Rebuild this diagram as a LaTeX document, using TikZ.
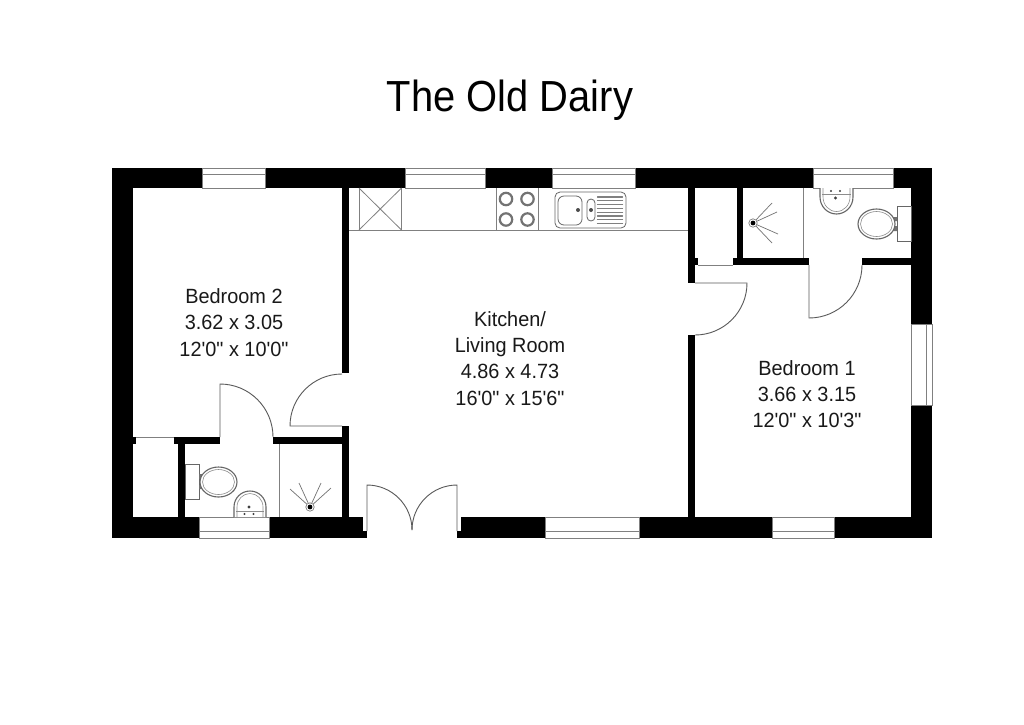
\documentclass[tikz,border=0pt]{standalone}
\usepackage{fontspec}
\newfontfamily\planfont[FakeStretch=0.965]{Liberation Sans}
\newfontfamily\titlefont[FakeStretch=0.917]{Liberation Sans}
\tikzset{
  wall/.style={fill=black,draw=none},
  thin line/.style={draw=black!50,line width=0.8pt},
  door/.style={draw=black!65,line width=0.9pt},
  fixture/.style={draw=black!60,line width=0.8pt,fill=white},
  room/.style={align=center,font=\planfont\fontsize{20.6}{26.2}\selectfont,text=black!90,inner sep=0pt},
  heading/.style={font=\titlefont\fontsize{43.5}{48}\selectfont,text=black,inner sep=0pt},
  ray/.style={draw=black!55,line width=0.7pt}
}
\newcommand{\wallbox}[4]{\fill[wall] (#1,#2) rectangle (#3,#4);}
\newcommand{\winh}[4]{\draw[thin line] (#1,#2) rectangle (#3,#4); \draw[thin line] (#1,531) -- (#3,531);}
\newcommand{\ring}[2]{\draw[draw=black!55,line width=2.2pt] (#1,#2) circle (6.2);}
\begin{document}
\begin{tikzpicture}[x=1pt,y=-1pt]
\useasboundingbox (0,0) rectangle (1024,724);
\fill[white] (0,0) rectangle (1024,724);
% outer walls
\wallbox{112}{168}{133}{538}
\wallbox{112}{168}{202}{188}
\wallbox{265}{168}{405}{188}
\wallbox{485}{168}{552}{188}
\wallbox{635}{168}{813}{188}
\wallbox{893}{168}{932}{188}
\wallbox{911}{168}{932}{324}
\wallbox{911}{405}{932}{538}
\wallbox{112}{517}{199}{538}
\wallbox{269}{517}{363}{538}
\wallbox{269}{531}{367}{538}
\wallbox{461}{517}{545}{538}
\wallbox{457}{531}{545}{538}
\wallbox{639}{517}{772}{538}
\wallbox{834}{517}{932}{538}
% inner walls
\wallbox{342}{188}{349}{373}
\wallbox{342}{426}{349}{517}
\wallbox{688}{188}{695}{283}
\wallbox{688}{335}{695}{517}
\wallbox{737}{188}{743}{265}
\wallbox{733}{258}{809}{265}
\wallbox{862}{258}{911}{265}
\wallbox{695}{258}{698}{265}
\wallbox{133}{437}{136}{444}
\wallbox{174}{437}{220}{444}
\wallbox{273}{437}{342}{444}
\wallbox{178}{437}{185}{517}
% windows
\draw[thin line] (202,168) rectangle (265,188); \draw[thin line] (202,174.5) -- (265,174.5);
\draw[thin line] (405,168) rectangle (485,188); \draw[thin line] (405,174.5) -- (485,174.5);
\draw[thin line] (552,168) rectangle (635,188); \draw[thin line] (552,174.5) -- (635,174.5);
\draw[thin line] (813,168) rectangle (893,188); \draw[thin line] (813,174.5) -- (893,174.5);
\winh{199}{517}{269}{538}
\winh{545}{517}{639}{538}
\winh{772}{517}{834}{538}
\draw[thin line] (911,324) rectangle (932,405); \draw[thin line] (926,324) -- (926,405);
% kitchen counter
\draw[thin line] (349,230) -- (688,230);
\draw[thin line] (359,188) -- (359,230);
\draw[thin line] (401.5,188) -- (401.5,230);
\draw[thin line] (359,188) -- (401.5,230);
\draw[thin line] (401.5,188) -- (359,230);
% hob
\draw[thin line] (496,188) -- (496,230);
\draw[thin line] (538,188) -- (538,230);
\ring{506}{199}\ring{527.5}{199}\ring{506}{219.5}\ring{527.5}{219.5}
% sink
\draw[fixture,rounded corners=5pt] (555,192) rectangle (626,228);
\draw[fixture,rounded corners=6pt] (558,196) rectangle (582,225);
\draw[fixture,rounded corners=4pt] (587,199) rectangle (595,221);
\fill[black!70] (578,210) circle (2);
\fill[black!70] (591,210) circle (2);
\foreach \yy in {197,200.8,204.6,208.4,212.2,216,219.8,223.6}{
  \draw[draw=black!50,line width=1.3pt,line cap=round] (597.5,\yy) -- (622.5,\yy);
}
% closet thin lines
\draw[thin line] (698,265) -- (733,265);
\draw[thin line] (136,437) -- (174,437);
% showers
\draw[thin line] (803,188) -- (803,258);
\draw[thin line] (279,444) -- (279,517);
\foreach \a/\b in {772/203,777/212,778/234,772/243}{ \draw[ray] (753,223) -- (\a,\b); }
\draw[fill=white,draw=black!50,line width=0.7pt] (753,223) circle (4.2);
\fill[black] (753,223) circle (2.4);
\foreach \a/\b in {290/489,299/483,321/483,331/488}{ \draw[ray] (310,507) -- (\a,\b); }
\draw[fill=white,draw=black!50,line width=0.7pt] (310,507) circle (4.2);
\fill[black] (310,507) circle (2.4);
% en-suite 1 basin
\draw[fixture,line width=1.1pt] (820,188) -- (820,197) arc[start angle=180,end angle=0,x radius=16.5,y radius=17] -- (853,188);
\draw[draw=black!45,line width=0.6pt] (823,188) -- (823,197) arc[start angle=180,end angle=0,x radius=13.5,y radius=14.5] -- (850,188);
\draw[draw=black!45,line width=0.6pt] (822,194) -- (851,194);
\fill[black!75] (831,191) circle (1.2) (840,191) circle (1.2) (835.5,198) circle (1.6);
% en-suite 1 toilet
\draw[fixture] (897,206) rectangle (911,241);
\fill[black!55] (893,217) rectangle (897,221) (893,226) rectangle (897,231);
\draw[fixture,line width=1.1pt] (876.5,224) ellipse (18.5 and 15);
\draw[draw=black!45,line width=0.6pt] (876.5,224) ellipse (16 and 12.5);
% en-suite 2 toilet
\draw[fixture] (185,464) rectangle (199,499);
\fill[black!55] (199,474) rectangle (203,479) (199,485) rectangle (203,489);
\draw[fixture,line width=1.1pt] (218.5,482) ellipse (18.5 and 15);
\draw[draw=black!45,line width=0.6pt] (218.5,482) ellipse (16 and 12.5);
% en-suite 2 basin
\draw[fixture,line width=1.1pt] (234,517) -- (234,507) arc[start angle=180,end angle=360,x radius=16,y radius=16] -- (266,517);
\draw[draw=black!45,line width=0.6pt] (237,517) -- (237,507) arc[start angle=180,end angle=360,x radius=13,y radius=13.5] -- (263,517);
\draw[draw=black!45,line width=0.6pt] (236,511) -- (264,511);
\fill[black!75] (244.5,514) circle (1.2) (253.5,514) circle (1.2) (249,507) circle (1.6);
% doors
\coordinate (d1a) at (747,283); \coordinate (d1b) at (695,283);
\draw[door] (d1b) -- (d1a) arc[start angle=0,end angle=90,radius=52];
\coordinate (d2a) at (809,265); \coordinate (d2b) at (809,318);
\draw[door] (d2a) -- (d2b) arc[start angle=90,end angle=0,radius=53];
\coordinate (d3a) at (220,437); \coordinate (d3b) at (220,384);
\draw[door] (d3a) -- (d3b) arc[start angle=-90,end angle=0,radius=53];
\coordinate (d4a) at (342,426); \coordinate (d4b) at (290,426);
\draw[door] (d4a) -- (d4b) arc[start angle=180,end angle=270,radius=52];
\coordinate (d5a) at (367,531); \coordinate (d5b) at (367,485);
\draw[door] (d5a) -- (d5b) arc[start angle=-90,end angle=0,radius=45];
\coordinate (d6a) at (457,531); \coordinate (d6b) at (457,485);
\draw[door] (d6a) -- (d6b) arc[start angle=-90,end angle=-180,radius=45];
% text
\node[heading,anchor=base] (titletext) at (510,111) {The Old Dairy};
\node[room,anchor=base] (bed2) at (234,303.5) {Bedroom 2};
\node[room,anchor=base] (bed2a) at (234,329.5) {3.62 x 3.05};
\node[room,anchor=base] (bed2b) at (234,356) {12'0" x 10'0"};
\node[room,anchor=base] (kit1) at (510,326) {Kitchen/};
\node[room,anchor=base] (kit2) at (510,352) {Living Room};
\node[room,anchor=base] (kit3) at (510,378.5) {4.86 x 4.73};
\node[room,anchor=base] (kit4) at (510,405) {16'0" x 15'6"};
\node[room,anchor=base] (bed1) at (807,375) {Bedroom 1};
\node[room,anchor=base] (bed1a) at (807,401) {3.66 x 3.15};
\node[room,anchor=base] (bed1b) at (807,427) {12'0" x 10'3"};
\end{tikzpicture}
\end{document}
